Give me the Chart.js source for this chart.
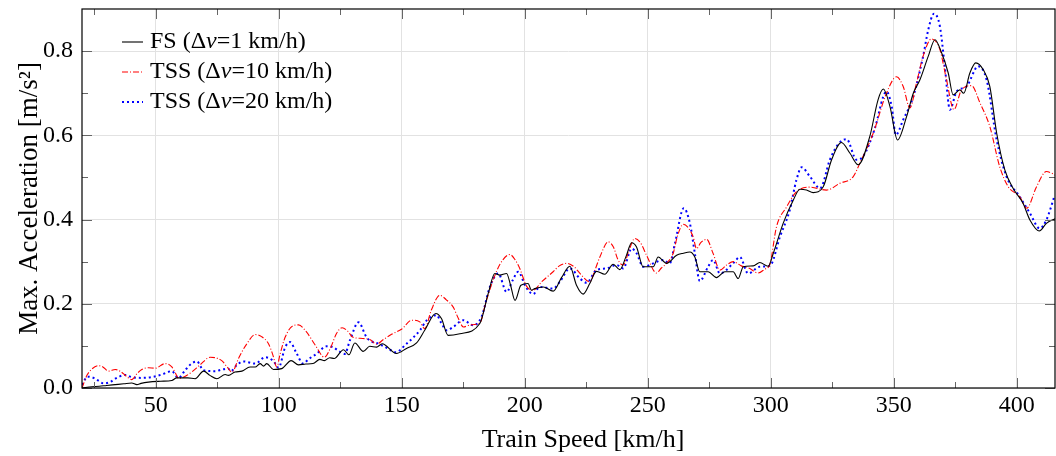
<!DOCTYPE html>
<html>
<head>
<meta charset="UTF-8">
<title>Max. Acceleration vs Train Speed</title>
<style>
  html, body { margin: 0; padding: 0; background: #fff; }
</style>
</head>
<body>
<canvas id="chart" width="1056" height="456"></canvas>
<script src="https://cdn.jsdelivr.net/npm/chart.js"></script>
<script>
// FS (dv = 1 km/h)
var fsSpeed = [20, 24, 27, 30, 33.5, 37, 40.2, 42.3, 44, 47, 52, 56.5, 58.5, 63, 66, 69.4, 72, 74.8, 78.2, 79.5,
    82.2, 85, 88.3, 90.4, 92.4, 93.8, 95.1, 97.8, 101.2, 105, 108, 111, 113.9, 116.7, 118.5, 120.7, 122.5, 126.3,
    128.5, 130.9, 134.3, 137, 139.7, 142, 147.8, 151.9, 156, 159.3, 163.8, 166.1, 168.8, 173.6, 181.7, 185.1,
    187.8, 189.8, 192.6, 194.2, 196, 198.4, 201.3, 202.7, 204, 207.5, 211.5, 214.9, 218.3, 221, 223.7, 226.4,
    229.1, 232.5, 235.9, 238.6, 241.3, 243.4, 245.4, 248.1, 252.2, 254.2, 257.6, 261.7, 264.4, 267.1, 269.1,
    271.1, 274.5, 277.9, 281.3, 284.7, 286.7, 288.8, 292.8, 295.5, 298.9, 301, 305, 309.1, 311.8, 314.5, 317.2,
    321.3, 324.7, 328.7, 332.1, 335.5, 340.2, 343.6, 345.7, 348.4, 351.5, 355.2, 357.9, 360.6, 364, 366.7,
    369.4, 372.1, 374.1, 376.8, 378.4, 380.9, 383.3, 386.3, 389, 391.8, 395.1, 398.5, 402.5, 405.3, 409.1,
    412, 415.9];
var fsAcc = [0.000, 0.003, 0.004, 0.006, 0.008, 0.010, 0.012, 0.008, 0.011, 0.014, 0.016, 0.018, 0.024, 0.024,
    0.022, 0.040, 0.030, 0.022, 0.032, 0.030, 0.038, 0.040, 0.050, 0.050, 0.058, 0.052, 0.058, 0.044, 0.046,
    0.065, 0.055, 0.057, 0.058, 0.068, 0.065, 0.072, 0.070, 0.091, 0.079, 0.107, 0.087, 0.099, 0.097, 0.105,
    0.082, 0.094, 0.107, 0.137, 0.177, 0.165, 0.125, 0.129, 0.153, 0.224, 0.272, 0.268, 0.272, 0.244, 0.208,
    0.244, 0.248, 0.232, 0.236, 0.240, 0.230, 0.262, 0.289, 0.244, 0.223, 0.248, 0.277, 0.270, 0.294, 0.281,
    0.315, 0.345, 0.335, 0.288, 0.288, 0.311, 0.296, 0.315, 0.320, 0.323, 0.311, 0.276, 0.276, 0.262, 0.276,
    0.276, 0.260, 0.288, 0.290, 0.298, 0.289, 0.320, 0.391, 0.446, 0.472, 0.470, 0.464, 0.478, 0.542, 0.583,
    0.558, 0.530, 0.597, 0.685, 0.710, 0.669, 0.589, 0.645, 0.700, 0.732, 0.788, 0.827, 0.796, 0.748, 0.696,
    0.708, 0.700, 0.748, 0.772, 0.756, 0.716, 0.605, 0.518, 0.474, 0.439, 0.399, 0.373, 0.391, 0.403];

// TSS (dv = 10 km/h)
var tss10Speed = [20, 22, 24, 26.7, 28.5, 30.8, 33.5, 35.5, 38, 40.2, 42.5, 44.3, 47, 49.7, 53.8, 56.5, 58, 59.2,
    62, 64.6, 68, 72.1, 76.8, 79, 80.9, 84, 87, 90.4, 93, 95.8, 97.5, 99.2, 100.5, 102.6, 105.8, 108, 111, 115,
    118.5, 121, 123.5, 125.7, 128, 130, 133, 137, 139.7, 142.5, 146, 150, 154, 157.3, 159.3, 162, 165.4, 168,
    170.9, 173, 175, 178, 181.7, 184, 187.1, 190, 193.9, 196, 198, 200.7, 203.4, 206.8, 211.5, 214, 217, 220,
    222.4, 226.4, 228.5, 230.5, 233.9, 236, 237.9, 240, 242.5, 244.7, 247, 249.5, 253.5, 255.5, 257.6, 260.3,
    262, 264.4, 266.5, 268.4, 269.8, 271.5, 273.9, 276.5, 279.3, 282, 284.7, 288, 291, 294.8, 297.5, 299.6,
    302.3, 306.4, 310.4, 315.9, 322.6, 328, 333.5, 336.2, 341.6, 347, 351.1, 353.8, 356.5, 359.2, 361.9,
    365.3, 368.7, 371.4, 374.4, 377.5, 381.6, 385, 389, 393, 396.5, 401.2, 404, 408, 412, 415.9];
var tss10Acc = [0.000, 0.030, 0.045, 0.053, 0.050, 0.040, 0.044, 0.040, 0.028, 0.020, 0.035, 0.044, 0.048, 0.047,
    0.058, 0.050, 0.035, 0.023, 0.028, 0.038, 0.055, 0.073, 0.065, 0.050, 0.038, 0.075, 0.105, 0.127, 0.122,
    0.105, 0.080, 0.050, 0.080, 0.121, 0.148, 0.150, 0.135, 0.100, 0.073, 0.095, 0.130, 0.143, 0.135, 0.121,
    0.118, 0.115, 0.104, 0.115, 0.128, 0.140, 0.161, 0.157, 0.141, 0.185, 0.220, 0.210, 0.192, 0.165, 0.145,
    0.150, 0.154, 0.200, 0.256, 0.295, 0.317, 0.305, 0.283, 0.242, 0.232, 0.252, 0.276, 0.290, 0.296, 0.288,
    0.272, 0.252, 0.280, 0.311, 0.347, 0.335, 0.304, 0.292, 0.330, 0.355, 0.345, 0.315, 0.273, 0.285, 0.296,
    0.320, 0.360, 0.389, 0.380, 0.359, 0.331, 0.345, 0.353, 0.320, 0.280, 0.292, 0.300, 0.290, 0.285, 0.273,
    0.282, 0.294, 0.383, 0.430, 0.466, 0.477, 0.470, 0.486, 0.502, 0.534, 0.605, 0.700, 0.739, 0.716, 0.665,
    0.724, 0.788, 0.829, 0.804, 0.732, 0.661, 0.708, 0.718, 0.677, 0.621, 0.526, 0.478, 0.454, 0.427, 0.478,
    0.514, 0.505];

// TSS (dv = 20 km/h)
var tss20Speed = [20, 22.3, 24.7, 26.5, 28.7, 31.4, 33.5, 37.5, 40.2, 44.3, 48.3, 52.4, 56.5, 59.2, 61.9, 64.5,
    66.7, 69.4, 74.1, 77, 79.5, 80.5, 83, 85.6, 90.4, 94.4, 97.8, 99.9, 102.6, 104.6, 107, 109.9, 112, 115.3,
    119.4, 122, 124.1, 126.8, 128.9, 132.4, 135.6, 137, 141, 144, 147.5, 151.9, 155, 157.5, 160, 164.1, 166,
    168.2, 170.9, 175, 179, 182.4, 185.8, 189.2, 192.6, 195, 197.3, 200.4, 203.4, 206, 211.5, 214.2, 218.3,
    222.4, 225.1, 229.1, 233.2, 237.3, 240, 243.4, 245.4, 248.1, 252.2, 256.2, 258.9, 261, 264.6, 267.1, 269.1,
    271.1, 274.5, 276.5, 279.3, 284.7, 287.4, 290.8, 295.5, 299.6, 303.7, 307.7, 310.4, 312.5, 315.9, 320,
    324, 327.5, 330.8, 334.8, 337.5, 342.3, 345.7, 347, 349.1, 350.8, 353.8, 357.9, 361.9, 364, 366.3, 368.7,
    370.7, 372.8, 375.5, 379.5, 384.3, 387.7, 391.8, 395.8, 401.2, 405.3, 409.3, 412, 415.4];
var tss20Acc = [0.008, 0.027, 0.024, 0.018, 0.011, 0.014, 0.022, 0.031, 0.026, 0.024, 0.026, 0.032, 0.040, 0.024,
    0.042, 0.058, 0.063, 0.042, 0.040, 0.044, 0.046, 0.040, 0.055, 0.063, 0.058, 0.073, 0.064, 0.048, 0.097,
    0.109, 0.085, 0.058, 0.068, 0.081, 0.099, 0.097, 0.089, 0.081, 0.113, 0.156, 0.121, 0.113, 0.104, 0.095,
    0.085, 0.105, 0.122, 0.138, 0.160, 0.173, 0.155, 0.137, 0.145, 0.161, 0.149, 0.169, 0.240, 0.272, 0.228,
    0.255, 0.276, 0.240, 0.223, 0.240, 0.236, 0.252, 0.284, 0.260, 0.250, 0.280, 0.284, 0.292, 0.284, 0.331,
    0.320, 0.288, 0.296, 0.304, 0.296, 0.343, 0.427, 0.391, 0.320, 0.254, 0.288, 0.304, 0.272, 0.296, 0.311,
    0.272, 0.288, 0.290, 0.359, 0.423, 0.494, 0.524, 0.502, 0.474, 0.542, 0.580, 0.591, 0.542, 0.550, 0.617,
    0.692, 0.704, 0.669, 0.601, 0.637, 0.692, 0.788, 0.851, 0.889, 0.859, 0.764, 0.661, 0.704, 0.716, 0.764,
    0.732, 0.589, 0.502, 0.454, 0.415, 0.379, 0.399, 0.458];

var seriesNames = ["FS", "TSS", "TSS"];
var seriesStep = ["1", "10", "20"];
var xTitle = "Train Speed [km/h]";
var xMajorTicks = [50, 100, 150, 200, 250, 300, 350, 400];
var xMinorTicks = [25, 75, 125, 175, 225, 275, 325, 375];
var yMajorTicks = [0, 0.2, 0.4, 0.6, 0.8];
var yMinorTicks = [0.1, 0.3, 0.5, 0.7];

var serif = "'Liberation Serif', 'DejaVu Serif', serif";

function toPoints(xs, ys) {
    return xs.map(function (x, i) { return { x: x, y: ys[i] }; });
}

// frame, inner tick marks, x title and the legend (pgfplots style)
var framePlugin = {
    id: "frame",
    afterDraw: function (chart) {
        var ctx = chart.ctx;
        var a = chart.chartArea;
        var xs = chart.scales.x, ys = chart.scales.y;
        ctx.save();
        ctx.strokeStyle = "#666";
        ctx.lineWidth = 1;
        function tickX(v, len) {
            var p = Math.round(xs.getPixelForValue(v)) + 0.5;
            ctx.beginPath();
            ctx.moveTo(p, a.bottom); ctx.lineTo(p, a.bottom - len);
            ctx.moveTo(p, a.top); ctx.lineTo(p, a.top + len);
            ctx.stroke();
        }
        function tickY(v, len) {
            var p = Math.round(ys.getPixelForValue(v)) + 0.5;
            ctx.beginPath();
            ctx.moveTo(a.left, p); ctx.lineTo(a.left + len, p);
            ctx.moveTo(a.right, p); ctx.lineTo(a.right - len, p);
            ctx.stroke();
        }
        xMajorTicks.forEach(function (v) { tickX(v, 10); });
        xMinorTicks.forEach(function (v) { tickX(v, 6); });
        yMajorTicks.forEach(function (v) { tickY(v, 10); });
        yMinorTicks.forEach(function (v) { tickY(v, 6); });

        ctx.strokeStyle = "#000";
        ctx.lineWidth = 1.2;
        ctx.strokeRect(a.left, a.top, a.right - a.left, a.bottom - a.top);

        // x axis title, a little right of the plot centre as in the original
        ctx.fillStyle = "#000";
        ctx.font = "26px " + serif;
        ctx.textAlign = "center";
        ctx.textBaseline = "middle";
        ctx.fillText(xTitle, 583, 440);

        // legend
        var ds = chart.data.datasets;
        for (var i = 0; i < ds.length; i++) {
            var y = 42 + i * 30;
            ctx.beginPath();
            ctx.strokeStyle = ds[i].borderColor;
            ctx.lineWidth = ds[i].borderWidth;
            ctx.setLineDash(ds[i].borderDash || []);
            ctx.moveTo(122, y); ctx.lineTo(143, y);
            ctx.stroke();
            ctx.setLineDash([]);

            ctx.fillStyle = "#000";
            ctx.textBaseline = "middle";
            ctx.textAlign = "left";
            var x = 150;
            var parts = [
                [seriesNames[i] + " (\u0394", "normal"],
                ["v", "italic"],
                ["=" + seriesStep[i] + " km/h)", "normal"]
            ];
            parts.forEach(function (p) {
                ctx.font = p[1] + " 24px " + serif;
                ctx.fillText(p[0], x, y);
                x += ctx.measureText(p[0]).width;
            });
        }
        ctx.restore();
    }
};

var ctx = document.getElementById("chart").getContext("2d");
var chart = new Chart(ctx, {
    type: "line",
    data: {
        datasets: [
            {
                label: "FS (\u0394v=1 km/h)",
                data: toPoints(fsSpeed, fsAcc),
                borderColor: "#000000",
                borderWidth: 1.1,
                pointRadius: 0,
                cubicInterpolationMode: "monotone",
                fill: false
            },
            {
                label: "TSS (\u0394v=10 km/h)",
                data: toPoints(tss10Speed, tss10Acc),
                borderColor: "#ff0000",
                borderWidth: 1.1,
                borderDash: [6, 2, 1, 2],
                pointRadius: 0,
                cubicInterpolationMode: "monotone",
                fill: false
            },
            {
                label: "TSS (\u0394v=20 km/h)",
                data: toPoints(tss20Speed, tss20Acc),
                borderColor: "#0000ff",
                borderWidth: 2,
                borderDash: [2, 3],
                pointRadius: 0,
                cubicInterpolationMode: "monotone",
                fill: false
            }
        ]
    },
    options: {
        responsive: false,
        animation: false,
        layout: { padding: { top: 9, right: 1, left: 0, bottom: 0 } },
        plugins: {
            legend: { display: false },
            tooltip: { enabled: false }
        },
        scales: {
            x: {
                type: "linear",
                min: 20,
                max: 415.5,
                afterFit: function (s) {
                    s.height = 68;
                    s.paddingLeft = 0;
                    s.paddingRight = 0;
                },
                ticks: {
                    stepSize: 50,
                    includeBounds: false,
                    padding: 3,
                    color: "#000",
                    maxRotation: 0,
                    font: { family: serif, size: 24 }
                },
                grid: { color: "#e2e2e2", lineWidth: 1, drawTicks: false },
                border: { display: false },
                title: { display: false }
            },
            y: {
                min: 0,
                max: 0.9,
                afterFit: function (s) {
                    s.width = 82;
                    s.paddingTop = 0;
                    s.paddingBottom = 0;
                },
                ticks: {
                    stepSize: 0.2,
                    includeBounds: false,
                    padding: 9,
                    color: "#000",
                    font: { family: serif, size: 24 },
                    callback: function (v) { return v.toFixed(1); }
                },
                grid: { color: "#e2e2e2", lineWidth: 1, drawTicks: false },
                border: { display: false },
                title: {
                    display: true,
                    text: "Max. Acceleration [m/s\u00b2]",
                    color: "#000",
                    font: { family: serif, size: 27 },
                    padding: { top: 14, bottom: 0 }
                }
            }
        }
    },
    plugins: [framePlugin]
});
</script>
</body>
</html>
